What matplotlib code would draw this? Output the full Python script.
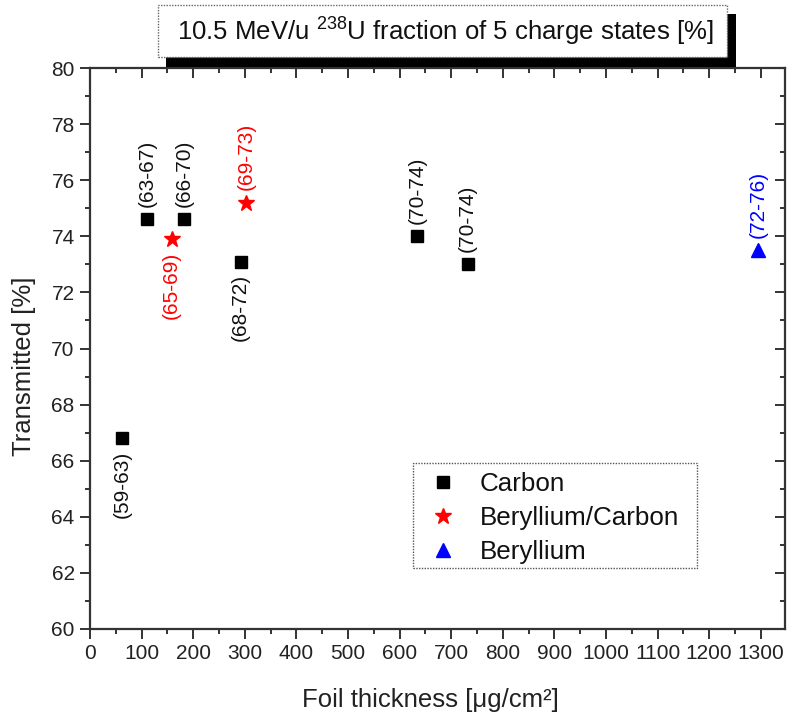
import matplotlib
matplotlib.use("Agg")
import matplotlib.pyplot as plt
from matplotlib.patches import Rectangle
from matplotlib.ticker import MultipleLocator

plt.rcParams['font.family'] = ['Liberation Sans', 'DejaVu Sans']
plt.rcParams['mathtext.fontset'] = 'custom'
plt.rcParams['mathtext.rm'] = 'Liberation Sans'
plt.rcParams['mathtext.it'] = 'Liberation Sans:italic'
plt.rcParams['mathtext.bf'] = 'Liberation Sans:bold'

# ---- data ----
carbon_x = [62, 111, 182, 292, 634, 732]
carbon_y = [66.8, 74.6, 74.6, 73.1, 74.0, 73.0]
carbon_labels = ["(59-63)", "(63-67)", "(66-70)", "(68-72)", "(70-74)", "(70-74)"]
carbon_above = [False, True, True, False, True, True]

becarbon_x = [158, 302]
becarbon_y = [73.9, 75.2]
becarbon_labels = ["(65-69)", "(69-73)"]
becarbon_above = [False, True]

be_x = [1295]
be_y = [73.5]
be_labels = ["(72-76)"]
be_above = [True]

series_names = ["Carbon", "Beryllium/Carbon", "Beryllium"]
title_text = r"10.5 MeV/u $^{238}$U fraction of 5 charge states [%]"
xlabel = "Foil thickness [μg/cm²]"
ylabel = "Transmitted [%]"

W, H = 787, 719
fig = plt.figure(figsize=(W / 100, H / 100), dpi=100)

def px(x0, y0, x1, y1):
    return [x0 / W, 1 - y1 / H, (x1 - x0) / W, (y1 - y0) / H]

AX0, AY0, AX1, AY1 = 90, 68, 785, 629
ax = fig.add_axes(px(AX0, AY0, AX1, AY1))
ax.set_xlim(0, 1347)
ax.set_ylim(60, 80)

def axfrac(x, y):
    return ((x - AX0) / (AX1 - AX0), (AY1 - y) / (AY1 - AY0))

RED = "#ff0000"
BLUE = "#0000ff"
ax.plot(carbon_x, carbon_y, ls="none", marker="s", ms=8, color="black", label=series_names[0])
ax.plot(becarbon_x, becarbon_y, ls="none", marker="*", ms=12, color=RED, label=series_names[1])
ax.plot(be_x, be_y, ls="none", marker="^", ms=10, color=BLUE, label=series_names[2])

def annotate(xs, ys, labels, above, color):
    for x, y, t, a in zip(xs, ys, labels, above):
        ax.annotate(t, (x, y), xytext=(0, 9 if a else -9), textcoords="offset points",
                    rotation=90, ha="center", va="bottom" if a else "top",
                    fontsize=15, color=color)

annotate(carbon_x, carbon_y, carbon_labels, carbon_above, "#111111")
annotate(becarbon_x, becarbon_y, becarbon_labels, becarbon_above, RED)
annotate(be_x, be_y, be_labels, be_above, BLUE)

ax.xaxis.set_major_locator(MultipleLocator(100))
ax.xaxis.set_minor_locator(MultipleLocator(50))
ax.yaxis.set_major_locator(MultipleLocator(2))
ax.yaxis.set_minor_locator(MultipleLocator(1))

spine_col = "#333333"
for s in ax.spines.values():
    s.set_color(spine_col)
    s.set_linewidth(1.6)

ax.tick_params(which="both", direction="out", colors=spine_col, labelcolor="#222222",
               labelsize=15, width=1.4, pad=4)
ax.tick_params(which="major", length=7)
ax.tick_params(which="minor", length=3.5)

# inward ticks on top and right
axt = ax.secondary_xaxis("top")
axt.xaxis.set_major_locator(MultipleLocator(100))
axt.xaxis.set_minor_locator(MultipleLocator(50))
axt.tick_params(which="both", direction="in", labeltop=False, colors=spine_col, width=1.4)
axt.tick_params(which="major", length=7)
axt.tick_params(which="minor", length=3.5)
axt.spines["top"].set_visible(False)
axr = ax.secondary_yaxis("right")
axr.yaxis.set_major_locator(MultipleLocator(2))
axr.yaxis.set_minor_locator(MultipleLocator(1))
axr.tick_params(which="both", direction="in", labelright=False, colors=spine_col, width=1.4)
axr.tick_params(which="major", length=7)
axr.tick_params(which="minor", length=3.5)
axr.spines["right"].set_visible(False)

ax.set_xlabel(xlabel, fontsize=18.5, color="#222222")
ax.xaxis.label.set_va("center")
ax.xaxis.set_label_coords(0.49, (AY1 - 700) / (AY1 - AY0))
ax.set_ylabel(ylabel, fontsize=18.5, color="#222222")
ax.yaxis.label.set_va("center")
ax.yaxis.set_label_coords((24 - AX0) / (AX1 - AX0), (AY1 - 366) / (AY1 - AY0))

# legend (frame drawn separately)
leg = ax.legend(loc="upper left", bbox_to_anchor=axfrac(430, 472),
                fontsize=18.7, frameon=False, borderpad=0,
                handlelength=1.0, handletextpad=0.92, labelspacing=0.38,
                borderaxespad=0, numpoints=1)
for t in leg.get_texts():
    t.set_color("#111111")
legframe = Rectangle((413 / W, 1 - 568 / H), (697 - 413) / W, (568 - 463) / H,
                     transform=fig.transFigure, facecolor="none", edgecolor="#555555",
                     linewidth=1.0, linestyle=(0, (1, 1)), zorder=5)
fig.patches.append(legframe)

# title box with shadow
shadow = Rectangle((166 / W, 1 - 67 / H), (736 - 166) / W, (67 - 14) / H,
                   transform=fig.transFigure, facecolor="black", edgecolor="none", zorder=5)
box = Rectangle((158 / W, 1 - 57 / H), (727 - 158) / W, (57 - 5) / H,
                transform=fig.transFigure, facecolor="white", edgecolor="#666666",
                linewidth=1.0, linestyle=(0, (1, 1)), zorder=6)
fig.patches.extend([shadow, box])
fig.text(445 / W, 1 - 32 / H, title_text, ha="center", va="center", fontsize=18.5,
         color="#111111", zorder=7)

fig.savefig("out.png", dpi=100)
